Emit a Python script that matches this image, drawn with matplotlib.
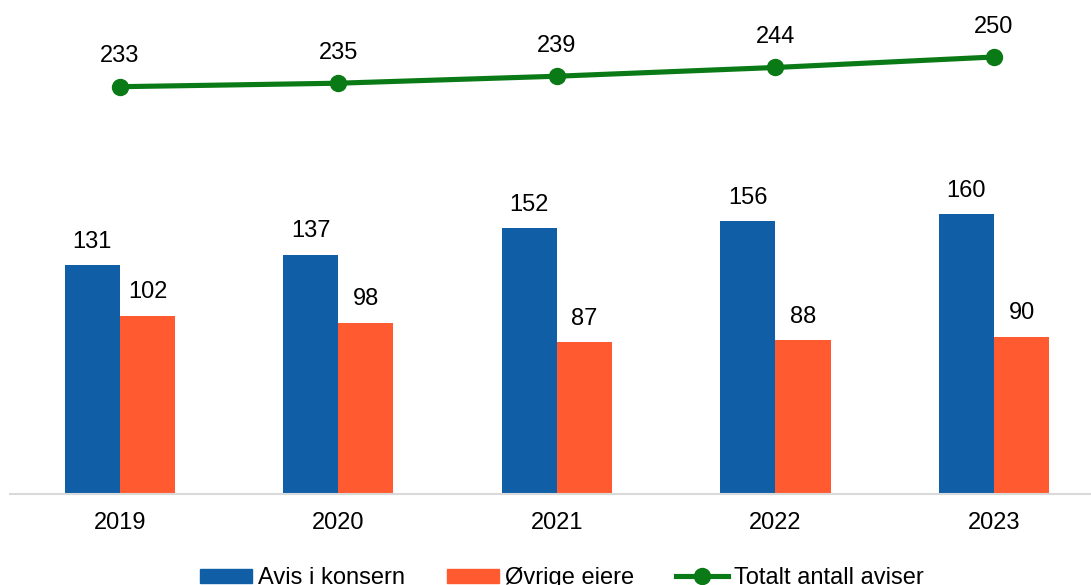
import matplotlib.pyplot as plt
import numpy as np
from matplotlib.lines import Line2D
from matplotlib.patches import Patch

plt.rcParams['font.family'] = ['Liberation Sans', 'DejaVu Sans']

# Antall aviser per år
years = ['2019', '2020', '2021', '2022', '2023']
konsern = [131, 137, 152, 156, 160]
ovrige = [102, 98, 87, 88, 90]
totalt = [233, 235, 239, 244, 250]

blue = '#0F5EA6'
orange = '#FF5A30'
green = '#0A7A16'

fig = plt.figure(figsize=(10.91, 5.85), dpi=100)
ax = fig.add_axes([10 / 1091, 91 / 585, 1081 / 1091, 494 / 585])

x = np.arange(len(years))
w = 0.252
ax.bar(x - w / 2, konsern, w, color=blue)
ax.bar(x + w / 2, ovrige, w, color=orange)
ax.plot(x, totalt, color=green, lw=3.7, marker='o', markersize=11.5)

fs = 17
for xi, v in zip(x - w / 2, konsern):
    ax.annotate(str(v), (xi, v), xytext=(0, 12.5), textcoords='offset points',
                ha='center', va='baseline', fontsize=fs)
for xi, v in zip(x + w / 2, ovrige):
    ax.annotate(str(v), (xi, v), xytext=(0, 12.5), textcoords='offset points',
                ha='center', va='baseline', fontsize=fs)
for xi, v in zip(x, totalt):
    ax.annotate(str(v), (xi, v), xytext=(0, 17.5), textcoords='offset points',
                ha='center', va='baseline', fontsize=fs)

ax.set_xlim(-0.503, 4.444)
ax.set_ylim(0, 282.6)
ax.set_xticks(x)
ax.set_xticklabels(years, fontsize=fs)
ax.tick_params(axis='x', length=0, pad=13)
ax.set_yticks([])
for s in ['top', 'right', 'left']:
    ax.spines[s].set_visible(False)
ax.spines['bottom'].set_color('#D9D9D9')
ax.spines['bottom'].set_linewidth(1.5)

handles = [Patch(color=blue, label='Avis i konsern'),
           Patch(color=orange, label='Øvrige eiere'),
           Line2D([], [], color=green, lw=3.7, marker='o', markersize=11.5,
                  label='Totalt antall aviser')]
fig.legend(handles=handles, loc='center', bbox_to_anchor=(0.515, 0.012), ncol=3,
           frameon=False, fontsize=fs, handlelength=2.2, handleheight=0.55,
           handletextpad=0.25, columnspacing=1.8)

fig.savefig('out.png', dpi=100)
